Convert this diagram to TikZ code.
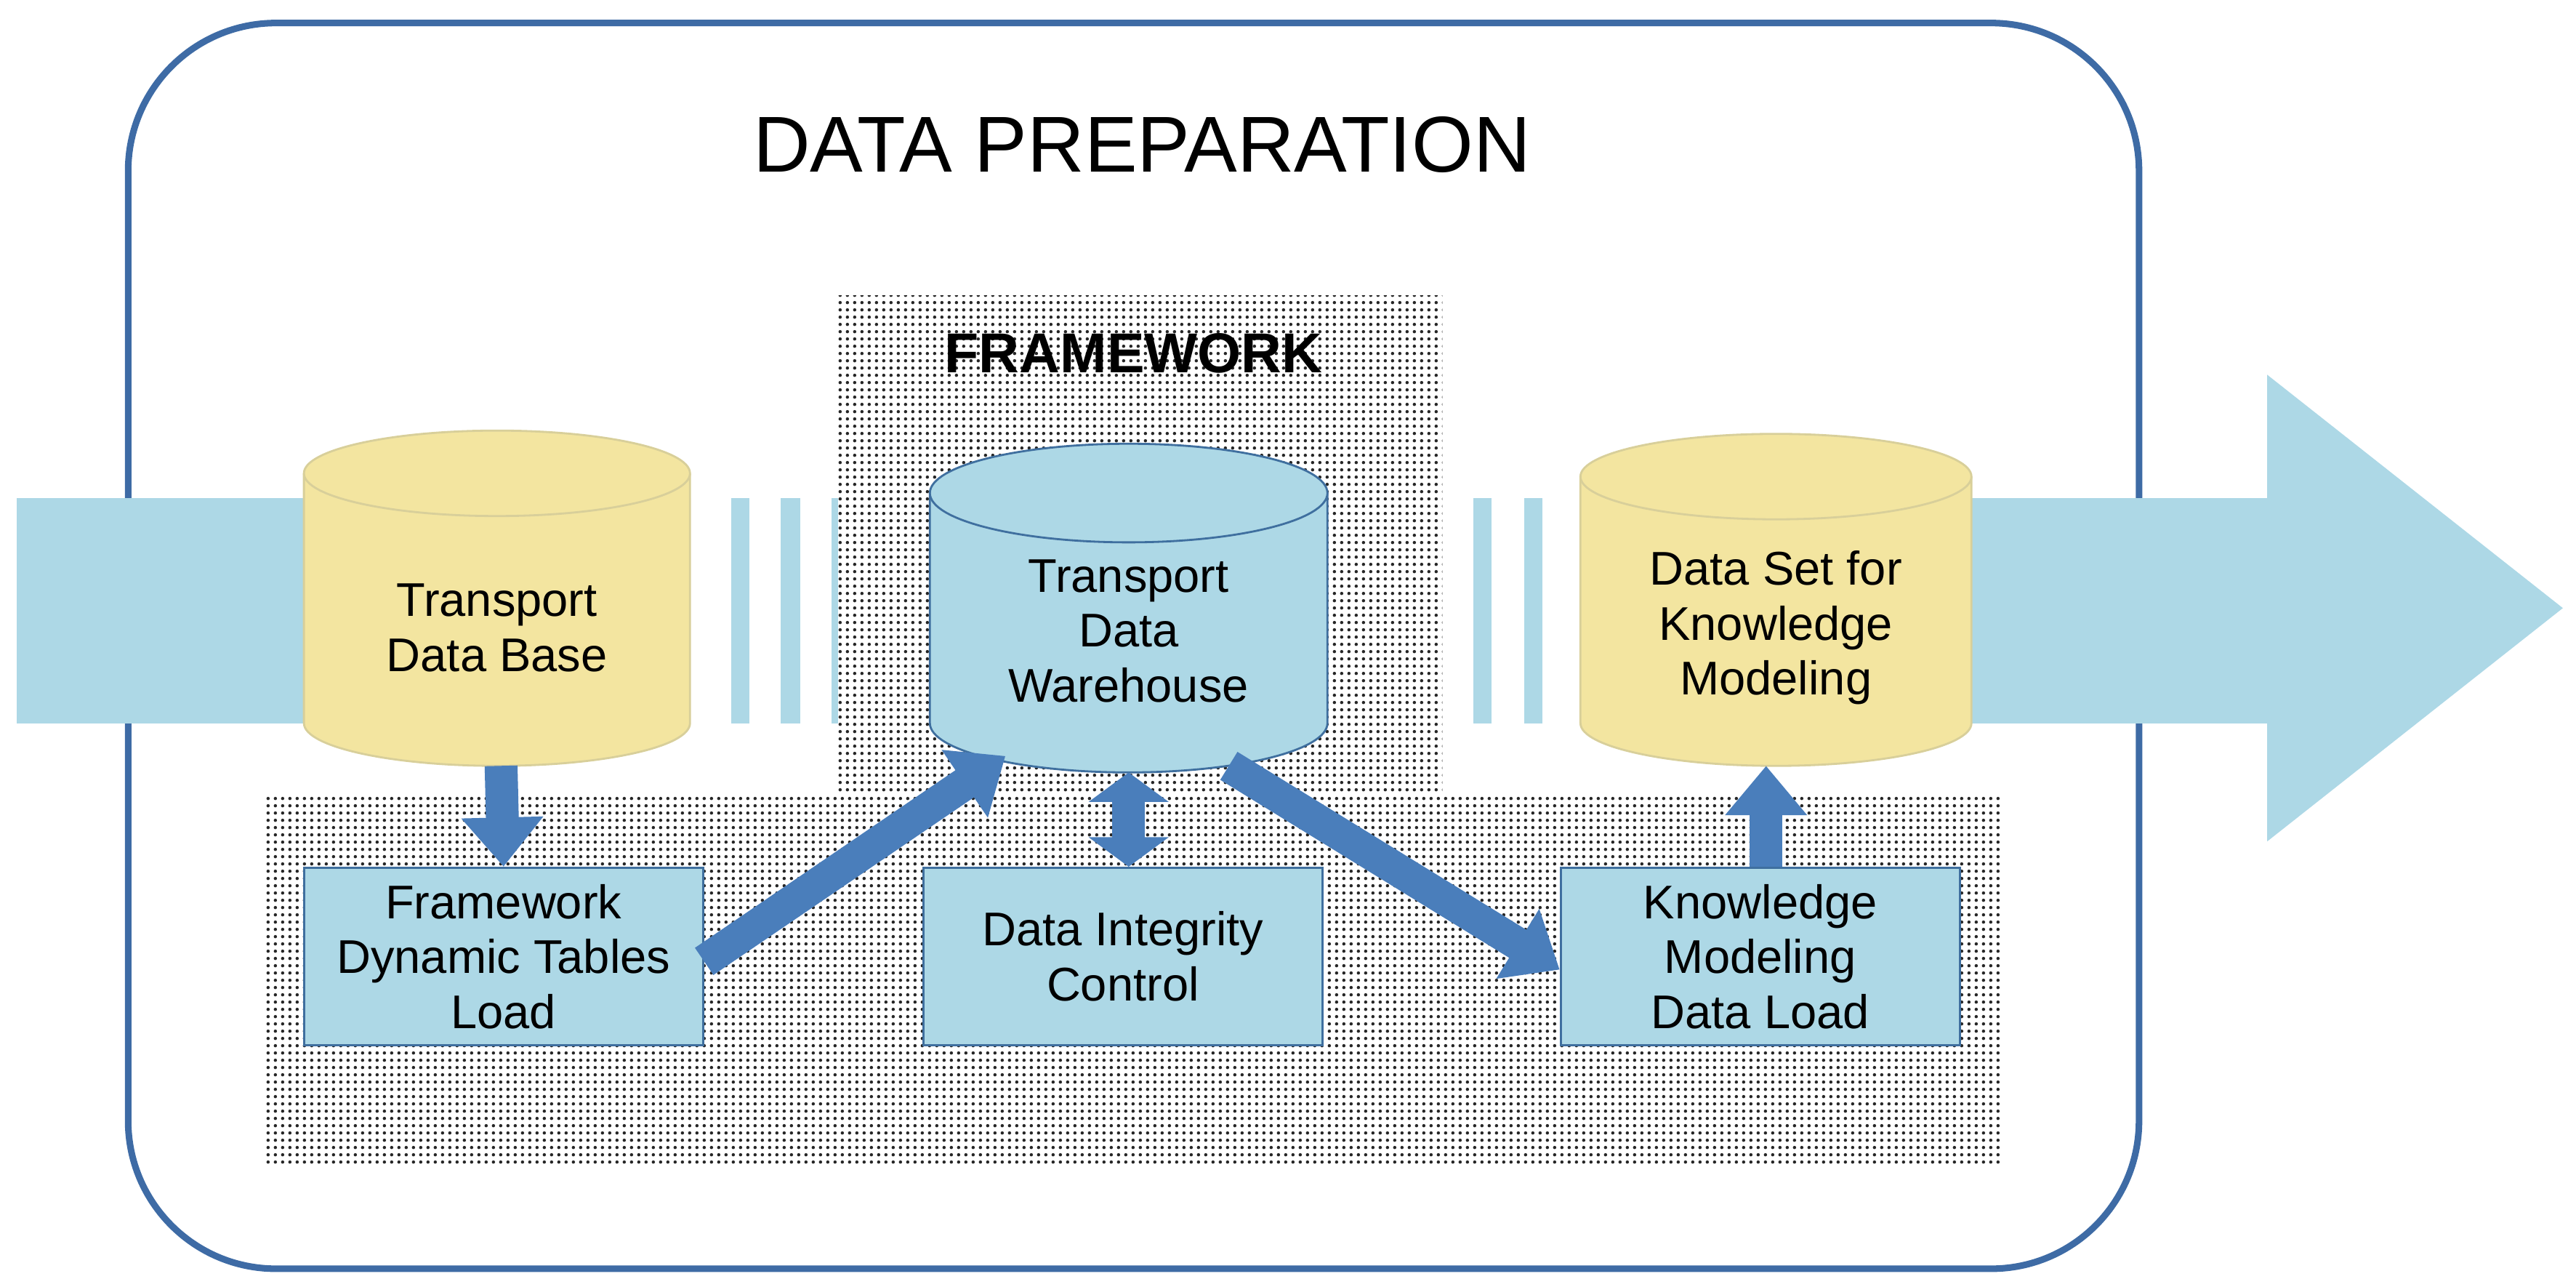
\documentclass[tikz,border=0pt]{standalone}
\usepackage{fontspec}
\setmainfont{Liberation Sans}
\usetikzlibrary{patterns.meta,arrows.meta}
\definecolor{band}{HTML}{ADD8E6}
\definecolor{cylY}{HTML}{F3E5A0}
\definecolor{cylYd}{HTML}{D8CF9A}
\definecolor{boxB}{HTML}{ADD8E6}
\definecolor{boxBd}{HTML}{3F6F9F}
\definecolor{arr}{HTML}{4A7EBB}
\definecolor{frame}{HTML}{3E6BA5}
\tikzdeclarepattern{name=fdots, type=uncolored, bounding box={(0pt,0pt) and (2.8pt,2.8pt)}, tile size={(2.8pt,2.8pt)}, code={\fill (1.4pt,1.4pt) circle (0.65pt);}}
\begin{document}
\begin{tikzpicture}[x=0.0226cm,y=0.0226cm,
  txt/.style={font=\fontsize{18.5}{21.5}\selectfont, align=center, text=black},
  box/.style={draw=boxBd, line width=0.8pt, fill=boxB, minimum width=243*0.0226cm, minimum height=108*0.0226cm, txt},
  fat/.style={draw=arr, line width=20*0.0226cm, -{Triangle[width=48*0.0226cm,length=30*0.0226cm]}},
  dotted area/.style={pattern=fdots, pattern color=black!85}]
\useasboundingbox (0,0) rectangle (1568,-783);
% outer frame
\draw[frame, line width=4*0.0226cm, rounded corners=90*0.0226cm] (78,-14) rectangle (1302,-772);
\node[font=\fontsize{31}{36}\selectfont] (title) at (695,-88) {DATA PREPARATION};
% band
\fill[band] (10,-303) rectangle (1380,-440);
\fill[band] (1380,-228) -- (1560,-370) -- (1380,-512) -- cycle;
% white gaps with stripes
\fill[white] (420,-303) rectangle (445,-440);
\fill[white] (456,-303) rectangle (475,-440);
\fill[white] (487,-303) rectangle (506,-440);
\fill[white] (878,-303) rectangle (897,-440);
\fill[white] (908,-303) rectangle (928,-440);
\fill[white] (939,-303) rectangle (962,-440);
% dotted areas
\fill[white] (510,-180) rectangle (878,-483);
\fill[dotted area] (510,-180) rectangle (878,-483);
\fill[white] (160,-483) rectangle (1218,-708);
\fill[dotted area] (160,-483) rectangle (1218,-708);
\node[font=\bfseries\fontsize{22}{26}\selectfont] (fw) at (690,-215) {FRAMEWORK};
% cylinders
\draw[cylYd, fill=cylY, line width=0.8pt] (185,-288) -- (185,-440) arc[start angle=180,end angle=360,x radius=117.5,y radius=26] -- (420,-288);
\draw[cylYd, fill=cylY, line width=0.8pt] (302.5,-288) ellipse[x radius=117.5,y radius=26];
\node[txt] (tdb) at (302.5,-382) {Transport\\Data Base};
\draw[boxBd, fill=boxB, line width=0.8pt] (566,-300) -- (566,-440) arc[start angle=180,end angle=360,x radius=121,y radius=30] -- (808,-300);
\draw[boxBd, fill=boxB, line width=0.8pt] (687,-300) ellipse[x radius=121,y radius=30];
\node[txt] (tdw) at (687,-384) {Transport\\Data\\Warehouse};
\draw[cylYd, fill=cylY, line width=0.8pt] (962,-290) -- (962,-440) arc[start angle=180,end angle=360,x radius=119,y radius=26] -- (1200,-290);
\draw[cylYd, fill=cylY, line width=0.8pt] (1081,-290) ellipse[x radius=119,y radius=26];
\node[txt] (dsk) at (1081,-382) {Data Set for\\Knowledge\\Modeling};
\coordinate (tdbB) at (305,-466);
\coordinate (tdwBL) at (612,-460);
\coordinate (tdwB) at (687,-470);
\coordinate (tdwBR) at (748,-466);
\coordinate (dskB) at (1075,-466);
% boxes
\node[box] (fdtl) at (306.5,-582) {Framework\\Dynamic Tables\\Load};
\node[box] (dic) at (683.5,-582) {Data Integrity\\Control};
\node[box] (kmdl) at (1071.5,-582) {Knowledge\\Modeling\\Data Load};
% arrows
\draw[fat] (tdbB) -- (fdtl.north);
\draw[fat] ([yshift=-3*0.0226cm]fdtl.east) -- (tdwBL);
\draw[fat, {Triangle[width=48*0.0226cm,length=18*0.0226cm]}-{Triangle[width=48*0.0226cm,length=18*0.0226cm]}] (tdwB) -- ([xshift=3.5*0.0226cm]dic.north);
\draw[fat] (tdwBR) -- ([yshift=-8*0.0226cm]kmdl.west);
\draw[fat] ([xshift=3.5*0.0226cm]kmdl.north) -- (dskB);
\end{tikzpicture}
\end{document}
